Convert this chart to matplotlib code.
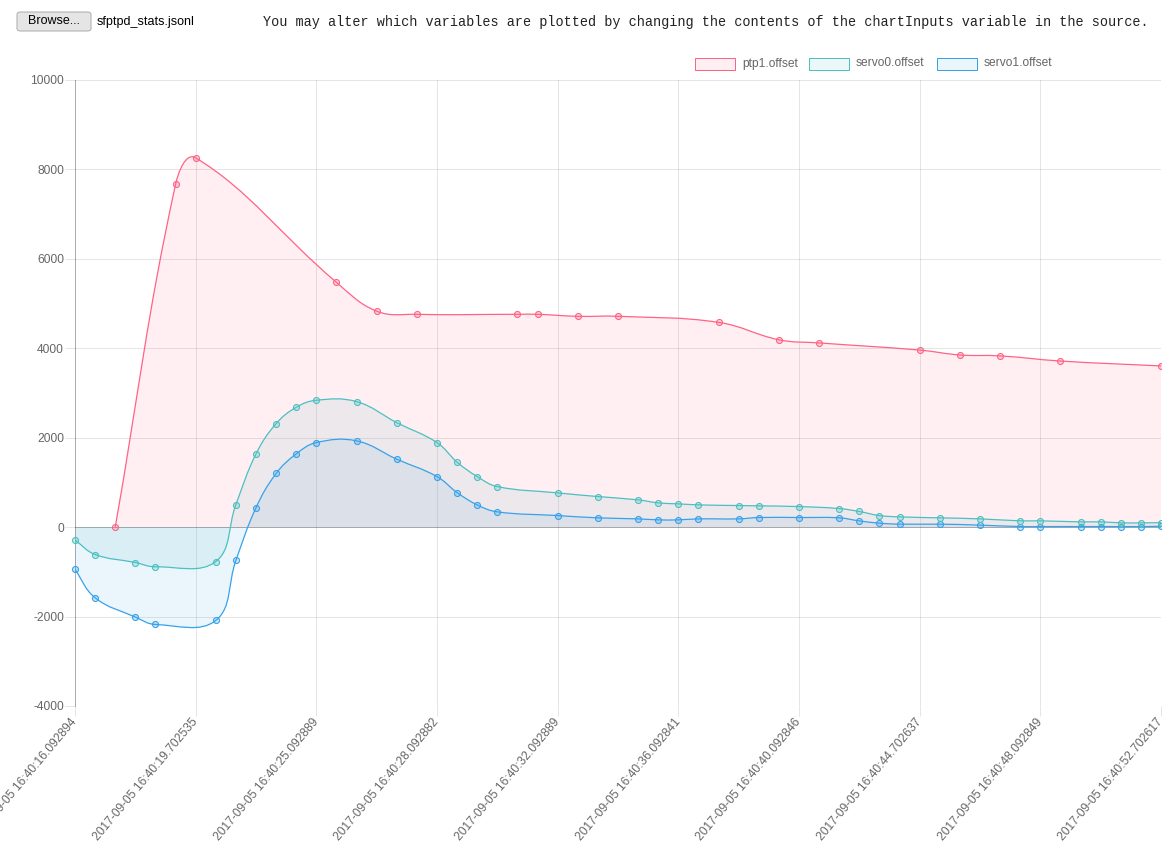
import numpy as np
import matplotlib
matplotlib.use("Agg")
import matplotlib.pyplot as plt
from matplotlib.path import Path
from matplotlib.patches import PathPatch, Rectangle, FancyBboxPatch

# ---------------- data ----------------
n_categories = 55
tick_every = 6
tick_labels = [
    "2017-09-05 16:40:16.092894",
    "2017-09-05 16:40:19.702535",
    "2017-09-05 16:40:25.092889",
    "2017-09-05 16:40:28.092882",
    "2017-09-05 16:40:32.092889",
    "2017-09-05 16:40:36.092841",
    "2017-09-05 16:40:40.092846",
    "2017-09-05 16:40:44.702637",
    "2017-09-05 16:40:48.092849",
    "2017-09-05 16:40:52.702617",
]

ptp1_idx = [2, 5, 6, 13, 15, 17, 22, 23, 25, 27, 32, 35, 37, 42, 44, 46, 49, 54]
ptp1_vals = [0, 7665, 8260, 5475, 4830, 4760, 4760, 4760, 4715, 4715, 4580,
             4190, 4120, 3960, 3850, 3830, 3715, 3605]

servo_idx = [0, 1, 3, 4, 7, 8, 9, 10, 11, 12, 14, 16, 18, 19, 20, 21, 24, 26,
             28, 29, 30, 31, 33, 34, 36, 38, 39, 40, 41, 43, 45, 47, 48, 50,
             51, 52, 53, 54]
servo0_vals = [-290, -612, -791, -887, -769, 505, 1638, 2315, 2680, 2838,
               2807, 2337, 1891, 1453, 1131, 907, 766, 684, 610, 543,
               521, 498, 483, 476, 460, 416, 350, 259, 230, 208,
               185, 141, 141, 118, 118, 96, 96, 100]
servo1_vals = [-947, -1580, -2011, -2177, -2087, -746, 435, 1200, 1638, 1891,
               1930, 1520, 1131, 773, 498, 342, 259, 208, 185, 163,
               163, 185, 185, 215, 215, 208, 140, 89, 67, 67,
               45, 13, 13, 13, 13, 13, 13, 20]

series_names = ["ptp1.offset", "servo0.offset", "servo1.offset"]
series_colors = [(255, 99, 132), (75, 192, 192), (54, 162, 235)]
fill_alpha = 0.1

y_min, y_max, y_step = -4000, 10000, 2000

# ---------------- layout ----------------
W, H = 1162, 844
plt.rcParams['font.family'] = ['Liberation Sans', 'DejaVu Sans']
fig = plt.figure(figsize=(W / 100, H / 100), dpi=100)


def fx(x):
    return x / W


def fy(y):
    return 1 - y / H


PX = 0.72  # points per pixel
left, right, top, bottom = 75, 1161, 80, 706
ax = fig.add_axes([fx(left), fy(bottom), (right - left) / W, (bottom - top) / H])
ax.set_xlim(0, n_categories - 1)
ax.set_ylim(y_min, y_max)
for s in ax.spines.values():
    s.set_visible(False)

grid_col = (0, 0, 0, 0.1)
zero_col = (0, 0, 0, 0.25)
tick_pos = list(range(0, n_categories, tick_every))
ax.set_xticks(tick_pos)
ax.set_xticklabels(tick_labels[:len(tick_pos)], rotation=50, ha='right',
                   va='center', rotation_mode='anchor')
ax.set_yticks(np.arange(y_min, y_max + 1, y_step))
ax.set_yticklabels([str(v) for v in range(y_min, y_max + 1, y_step)])
ax.tick_params(axis='x', length=10 * PX, width=1 * PX, color=grid_col,
               pad=4 * PX, labelsize=12 * PX, labelcolor='#666666')
ax.tick_params(axis='y', length=10 * PX, width=1 * PX, color=grid_col,
               pad=1 * PX, labelsize=12 * PX, labelcolor='#666666')
ax.grid(True, color='black', alpha=0.1, lw=1 * PX, zorder=0)
ax.set_axisbelow(True)
ax.axhline(0, color=zero_col, lw=1 * PX, zorder=0.5)
ax.axvline(0, color=zero_col, lw=1 * PX, zorder=0.5, clip_on=False)

# ---------------- Chart.js style bezier ----------------
fig.canvas.draw()
trans = ax.transData
inv = trans.inverted()
bb = ax.bbox


def chart_path(idx, vals, tension=0.4):
    pts = trans.transform(np.column_stack([idx, vals]).astype(float))
    n = len(pts)
    cpp = np.zeros_like(pts)
    cpn = np.zeros_like(pts)
    for i in range(n):
        p = pts[i - 1] if i > 0 else pts[i]
        c = pts[i]
        q = pts[i + 1] if i < n - 1 else pts[i]
        d01 = np.hypot(*(c - p))
        d12 = np.hypot(*(q - c))
        tot = d01 + d12
        s01 = d01 / tot if tot > 0 else 0
        s12 = d12 / tot if tot > 0 else 0
        cpp[i] = c - tension * s01 * (q - p)
        cpn[i] = c + tension * s12 * (q - p)
    for arr in (cpp, cpn):
        arr[:, 0] = np.clip(arr[:, 0], bb.x0, bb.x1)
        arr[:, 1] = np.clip(arr[:, 1], bb.y0, bb.y1)
    verts = [pts[0]]
    codes = [Path.MOVETO]
    for i in range(n - 1):
        verts += [cpn[i], cpp[i + 1], pts[i + 1]]
        codes += [Path.CURVE4] * 3
    verts = inv.transform(np.array(verts))
    return verts, codes


all_series = [(ptp1_idx, ptp1_vals), (servo_idx, servo0_vals), (servo_idx, servo1_vals)]
nser = len(all_series)
for k in range(nser - 1, -1, -1):
    idx, vals = all_series[k]
    col = tuple(c / 255 for c in series_colors[k])
    verts, codes = chart_path(idx, vals)
    fverts = np.vstack([verts, [[idx[-1], 0], [idx[0], 0], [idx[0], 0]]])
    fcodes = codes + [Path.LINETO, Path.LINETO, Path.CLOSEPOLY]
    ax.add_patch(PathPatch(Path(fverts, fcodes), facecolor=col + (fill_alpha,),
                           edgecolor='none', zorder=1 + (nser - k)))
for k in range(nser - 1, -1, -1):
    idx, vals = all_series[k]
    col = tuple(c / 255 for c in series_colors[k])
    verts, codes = chart_path(idx, vals)
    ax.add_patch(PathPatch(Path(verts, codes), facecolor='none', edgecolor=col,
                           lw=0.9, zorder=5 + (nser - k)))
    ax.plot(idx, vals, 'o', ms=6 * PX, mfc=col + (0.25,), mec=col,
            mew=1.1 * PX, zorder=9 + (nser - k), clip_on=False)

# ---------------- legend ----------------
leg_boxes = [695, 809, 937]
for k, name in enumerate(series_names):
    col = tuple(c / 255 for c in series_colors[k])
    x0 = leg_boxes[k]
    fig.patches.append(Rectangle((fx(x0), fy(70)), 40 / W, 12 / H,
                                 transform=fig.transFigure,
                                 facecolor=col + (fill_alpha,), edgecolor=col,
                                 lw=1 * PX))
    fig.text(fx(x0 + 47), fy(63.5), name, fontsize=12 * PX, color='#666666',
             ha='left', va='center')

# ---------------- page header ----------------
fig.patches.append(FancyBboxPatch((fx(17), fy(31)), 74 / W, 19 / H,
                                  boxstyle="round,pad=0,rounding_size=0.003",
                                  transform=fig.transFigure,
                                  facecolor='#e5e5e5', edgecolor='#adadad',
                                  lw=1 * PX))
fig.text(fx(54), fy(21.5), "Browse...", fontsize=12.5 * PX, color='#000000',
         ha='center', va='center')
fig.text(fx(97), fy(21.5), "sfptpd_stats.jsonl", fontsize=12.5 * PX,
         color='#000000', ha='left', va='center')
fig.text(fx(263), fy(22), "You may alter which variables are plotted by changing "
         "the contents of the chartInputs variable in the source.",
         fontsize=13.5 * PX, family='Liberation Mono', color='#222222',
         ha='left', va='center')

fig.savefig("out.png", dpi=100)
